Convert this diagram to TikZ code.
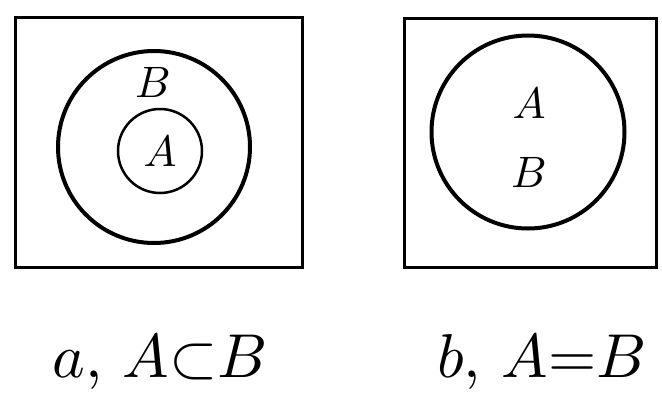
\documentclass[tikz,border=0pt]{standalone}
\usepackage{tikz}
\usetikzlibrary{positioning}

\begin{document}
\begin{tikzpicture}[
  x=1pt, y=-1pt,
  universe/.style={draw, line width=3pt},
  bigset/.style={circle, draw, line width=4pt, inner sep=0pt},
  smallset/.style={circle, draw, line width=2.5pt, inner sep=0pt},
  setname/.style={scale=4.4, inner sep=0pt},
  caption/.style={scale=6.2, inner sep=0pt}
]
\useasboundingbox (0,0) rectangle (662,400);

% ================ a: A inside B ================
\draw[universe] (15,17) rectangle (302,267);
\node[bigset, minimum width=192pt, minimum height=187pt] (setBa) at (154,147) {};
\node[smallset, minimum size=84pt] (setAa) at (160,151) {};
\node[setname] (lblAa) at (setAa) {$A$};
\node[setname] (lblBa) at (153,82) {$B$};

% ================ b: A equals B ================
\draw[universe] (404,18) rectangle (656,267);
\node[bigset, minimum size=193pt] (setAB) at (528,132) {};
\node[setname] (lblAb) at (529,103) {$A$};
\node[setname, below=69pt of lblAb.center, anchor=center] (lblBb) {$B$};

% ================ captions ================
\node[caption] (capA) at (160,362) {$a$, $A{\subset}B$};
\node[caption] (capB) at (542,362) {$b$, $A{=}B$};
\end{tikzpicture}
\end{document}
